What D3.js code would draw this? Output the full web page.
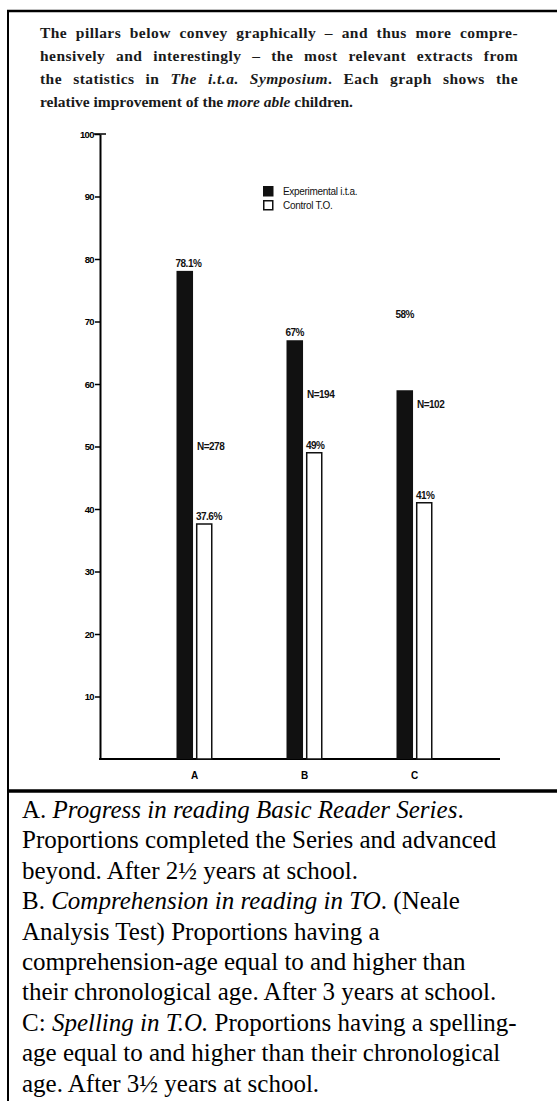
<!DOCTYPE html>
<html>
<head>
<meta charset="utf-8">
<script src="https://cdn.jsdelivr.net/npm/d3@7"></script>
<style>
  body { margin: 0; background: #fff; }
  svg { display: block; }
</style>
</head>
<body>
<div id="container"></div>
<script>
var categories = ['A', 'B', 'C'];
var seriesNames = ['Experimental i.t.a.', 'Control T.O.'];
var experimental = [78.1, 67, 59];
var control = [37.6, 49, 41];
var expLabels = ['78.1%', '67%', '58%'];
var ctlLabels = ['37.6%', '49%', '41%'];
var expLabelLevel = [78.1, 67, 70];
var sampleLabels = ['N=278', 'N=194', 'N=102'];
var sampleLevel = [50, 58.3, 56.6];
var yTicks = [10, 20, 30, 40, 50, 60, 70, 80, 90, 100];

var titleLines = [
	[['The pillars below convey graphically \u2013 and thus more compre-', false]],
	[['hensively and interestingly \u2013 the most relevant extracts from', false]],
	[['the statistics in ', false], ['The i.t.a. Symposium', true], ['. Each graph shows the', false]],
	[['relative improvement of the ', false], ['more able', true], [' children.', false]]
];

var captionLines = [
	[['A. ', false], ['Progress in reading Basic Reader Series', true], ['.', false]],
	[['Proportions completed the Series and advanced', false]],
	[['beyond. After 2\u00bd years at school.', false]],
	[['B. ', false], ['Comprehension in reading in TO', true], ['. (Neale', false]],
	[['Analysis Test) Proportions having a', false]],
	[['comprehension-age equal to and higher than', false]],
	[['their chronological age. After 3 years at school.', false]],
	[['C: ', false], ['Spelling in T.O.', true], [' Proportions having a spelling-', false]],
	[['age equal to and higher than their chronological', false]],
	[['age. After 3\u00bd years at school.', false]]
];

var W = 557, H = 1101;

var svg = d3.select('#container').append('svg')
	.attr('width', W)
	.attr('height', H);

// frame
svg.append('line').attr('x1', 7).attr('x2', W).attr('y1', 11).attr('y2', 11)
	.attr('stroke', '#000').attr('stroke-width', 2.5);
svg.append('line').attr('x1', 8).attr('x2', 8).attr('y1', 10).attr('y2', H)
	.attr('stroke', '#000').attr('stroke-width', 2);
svg.append('line').attr('x1', 7).attr('x2', W).attr('y1', 791).attr('y2', 791)
	.attr('stroke', '#000').attr('stroke-width', 3.5);

// title paragraph, justified by word spacing
titleLines.forEach(function(segs, i) {
	var last = i === titleLines.length - 1;
	var t = svg.append('text')
		.attr('x', 40)
		.attr('y', 38 + i * 23)
		.style('font-family', '"Liberation Serif", serif')
		.style('font-weight', 'bold')
		.style('font-size', '15.5px')
		.attr('letter-spacing', last ? '0' : '0.45')
		.style('fill', '#1a1a1a');
	segs.forEach(function(s) {
		t.append('tspan').text(s[0]).style('font-style', s[1] ? 'italic' : 'normal');
	});
	if (!last) {
		var len = t.node().getComputedTextLength();
		var gaps = segs.map(function(s) { return s[0]; }).join('').split(' ').length - 1;
		t.style('word-spacing', ((478 - len) / gaps) + 'px');
	}
});

// scales
var y = d3.scaleLinear().domain([0, 100]).range([759, 134]);
var x = d3.scaleBand().domain(categories).range([139.5, 469.5]);
var xs = d3.scaleBand().domain(seriesNames).range([-18, 18]).paddingInner(0.15);

var chart = svg.append('g');

var yAxis = chart.append('g')
	.attr('transform', 'translate(100,0)')
	.call(d3.axisLeft(y).tickValues(yTicks).tickSize(5).tickSizeOuter(0).tickPadding(1));
yAxis.select('.domain').attr('stroke-width', 2);
yAxis.selectAll('.tick line').attr('stroke-width', 1.5);
yAxis.selectAll('.tick text')
	.style('font-family', '"Liberation Sans", sans-serif')
	.style('font-weight', 'bold')
	.style('font-size', '9.5px')
	.attr('letter-spacing', '-0.6');
// crossbar at the top
chart.append('line')
	.attr('x1', 94).attr('x2', 106)
	.attr('y1', y(100)).attr('y2', y(100))
	.attr('stroke', '#000').attr('stroke-width', 1.5);

// baseline
chart.append('line')
	.attr('x1', 99).attr('x2', 500)
	.attr('y1', y(0)).attr('y2', y(0))
	.attr('stroke', '#000').attr('stroke-width', 2);

var xAxis = chart.append('g')
	.attr('transform', 'translate(0,' + y(0) + ')')
	.call(d3.axisBottom(x).tickSize(0).tickPadding(13));
xAxis.select('.domain').remove();
xAxis.selectAll('.tick text')
	.style('font-family', '"Liberation Sans", sans-serif')
	.style('font-weight', 'bold')
	.style('font-size', '10px');

// bars
var groups = chart.selectAll('.grp').data(categories).enter().append('g')
	.attr('transform', function(d) { return 'translate(' + (x(d) + x.bandwidth() / 2) + ',0)'; });

groups.append('rect')
	.attr('x', xs(seriesNames[0]))
	.attr('width', xs.bandwidth())
	.attr('y', function(d, i) { return y(experimental[i]); })
	.attr('height', function(d, i) { return y(0) - y(experimental[i]); })
	.style('fill', '#111');

groups.append('rect')
	.attr('x', xs(seriesNames[1]) + 0.75)
	.attr('width', xs.bandwidth() - 1.5)
	.attr('y', function(d, i) { return y(control[i]); })
	.attr('height', function(d, i) { return y(0) - y(control[i]); })
	.style('fill', '#fff')
	.attr('stroke', '#111')
	.attr('stroke-width', 1.5);

var lblFont = function(sel) {
	sel.style('font-family', '"Liberation Sans", sans-serif')
		.style('font-weight', 'bold')
		.style('font-size', '10px')
		.attr('letter-spacing', '-0.5')
		.style('fill', '#111');
};

groups.append('text')
	.attr('x', xs(seriesNames[0]) - 1)
	.attr('y', function(d, i) { return y(expLabelLevel[i]) - 4; })
	.text(function(d, i) { return expLabels[i]; })
	.call(lblFont);

groups.append('text')
	.attr('x', xs(seriesNames[1]))
	.attr('y', function(d, i) { return y(control[i]) - 4; })
	.text(function(d, i) { return ctlLabels[i]; })
	.call(lblFont);

groups.append('text')
	.attr('x', xs(seriesNames[1]) + 1)
	.attr('y', function(d, i) { return y(sampleLevel[i]) + 3; })
	.text(function(d, i) { return sampleLabels[i]; })
	.call(lblFont);

// legend
var legend = chart.append('g').attr('transform', 'translate(263,186)');
var li = legend.selectAll('g').data(seriesNames).enter().append('g')
	.attr('transform', function(d, i) { return 'translate(0,' + i * 14 + ')'; });
li.append('rect')
	.attr('x', 0.75).attr('y', 0.75)
	.attr('width', 9).attr('height', 9)
	.style('fill', function(d, i) { return i === 0 ? '#111' : '#fff'; })
	.attr('stroke', '#111').attr('stroke-width', 1.5);
li.append('text')
	.attr('x', 20).attr('y', 9)
	.text(function(d) { return d; })
	.style('font-family', '"Liberation Sans", sans-serif')
	.style('font-size', '10px')
	.attr('letter-spacing', '-0.3')
	.style('fill', '#111');

// caption below
captionLines.forEach(function(segs, i) {
	var t = svg.append('text')
		.attr('x', 22)
		.attr('y', 818 + i * 30.4)
		.style('font-family', '"Liberation Serif", "Times New Roman", serif')
		.style('font-size', '25px')
		.style('fill', '#000');
	segs.forEach(function(s) {
		t.append('tspan').text(s[0]).style('font-style', s[1] ? 'italic' : 'normal');
	});
});
</script>
</body>
</html>
